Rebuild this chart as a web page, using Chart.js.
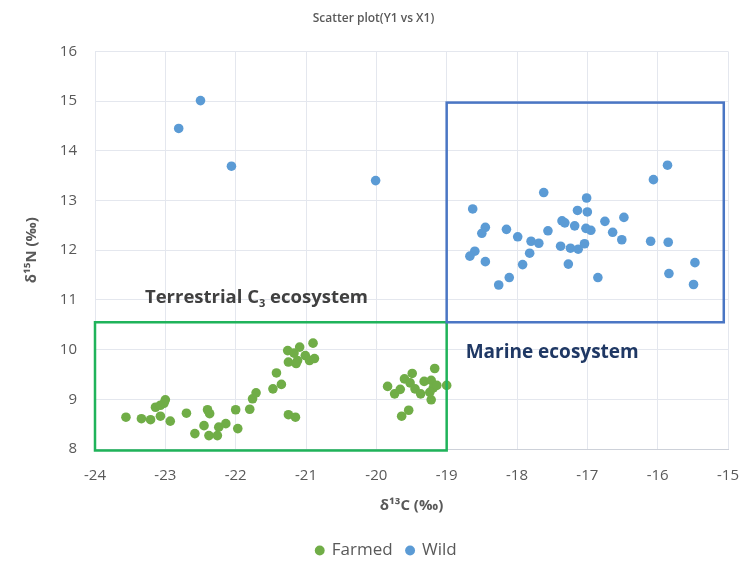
<!DOCTYPE html>
<html>
<head>
<meta charset="utf-8">
<script src="https://cdn.jsdelivr.net/npm/chart.js@4/dist/chart.umd.min.js"></script>
<style>
  html, body { margin: 0; padding: 0; background: #ffffff; }
  #wrap { width: 741px; height: 561px; position: relative; }
</style>
</head>
<body>
<div id="wrap"><canvas id="c" width="741" height="561"></canvas></div>
<script>
// ---- Data ----
const chartTitle = 'Scatter plot(Y1 vs X1)';
const xAxisTitle = 'δ¹³C (‰)';
const yAxisTitle = 'δ¹⁵N (‰)';
const seriesNames = ['Farmed', 'Wild'];

const farmedX = [-23.56, -23.34, -23.21, -22.93, -23.14, -23.07, -23.00, -23.02, -23.07, -22.70, -22.58,
  -22.40, -22.37, -22.45, -22.38, -22.26, -22.24, -22.14, -21.97, -22.00, -21.80, -21.76, -21.71,
  -21.47, -21.35, -21.42, -21.26, -21.25, -21.17, -21.09, -21.12, -21.14, -21.01, -20.95, -20.90,
  -20.88, -21.25, -21.15, -19.84, -19.74, -19.66, -19.60, -19.49, -19.52, -19.45, -19.37, -19.32,
  -19.22, -19.17, -19.19, -19.14, -19.22, -19.24, -19.00, -19.54, -19.64];
const farmedY = [8.64, 8.61, 8.59, 8.56, 8.84, 8.88, 8.99, 8.92, 8.66, 8.72, 8.31,
  8.79, 8.71, 8.47, 8.27, 8.27, 8.44, 8.51, 8.41, 8.79, 8.80, 9.01, 9.13,
  9.21, 9.30, 9.53, 9.98, 9.75, 9.93, 10.05, 9.78, 9.72, 9.88, 9.78, 10.13,
  9.82, 8.69, 8.64, 9.26, 9.11, 9.20, 9.41, 9.52, 9.33, 9.21, 9.11, 9.36,
  9.38, 9.62, 9.23, 9.28, 8.99, 9.14, 9.28, 8.78, 8.66];

const wildX = [-22.81, -22.50, -22.06, -20.01,
  -18.63, -17.62, -15.86, -16.06, -17.01, -17.14, -17.00, -16.48, -16.75, -17.36, -17.32, -17.18,
  -17.02, -16.95, -18.45, -18.50, -18.15, -17.56, -16.64, -17.99, -17.80, -17.69, -16.51, -16.10,
  -15.85, -17.38, -17.24, -17.13, -17.04, -18.60, -18.67, -18.45, -17.82, -17.92, -17.27, -18.11,
  -18.26, -16.85, -15.84, -15.47, -15.49];
const wildY = [14.45, 15.01, 13.69, 13.40,
  12.83, 13.16, 13.71, 13.42, 13.05, 12.80, 12.77, 12.66, 12.58, 12.59, 12.55, 12.49,
  12.44, 12.40, 12.46, 12.34, 12.42, 12.39, 12.36, 12.27, 12.18, 12.14, 12.21, 12.18,
  12.16, 12.08, 12.04, 12.02, 12.13, 11.98, 11.88, 11.77, 11.94, 11.71, 11.72, 11.45,
  11.30, 11.45, 11.53, 11.75, 11.31];

const xTicks = [-24, -23, -22, -21, -20, -19, -18, -17, -16, -15];
const yTicks = [8, 9, 10, 11, 12, 13, 14, 15, 16];

// annotation regions: [xMin, xMax, yMin, yMax]
const terrestrialBox = [-24, -19, 7.97, 10.55];
const marineBox = [-19, -15.06, 10.55, 14.97];
const terrestrialLabel = { x: -23.29, y: 11.05, text: 'Terrestrial C', sub: '3', rest: ' ecosystem' };
const marineLabel = { x: -18.73, y: 9.94, text: 'Marine ecosystem' };

// ---- Chart ----
const toPoints = (xs, ys) => xs.map((x, i) => ({ x: x, y: ys[i] }));

const annotationPlugin = {
  id: 'regions',
  afterLayout(chart) {
    if (chart.legend) { chart.legend.left += 26; }
  },
  afterDatasetsDraw(chart) {
    const ctx = chart.ctx;
    const xs = chart.scales.x, ys = chart.scales.y;
    const box = (b, color) => {
      const x1 = xs.getPixelForValue(b[0]), x2 = xs.getPixelForValue(b[1]);
      const y1 = ys.getPixelForValue(b[3]), y2 = ys.getPixelForValue(b[2]);
      ctx.save();
      ctx.strokeStyle = color;
      ctx.lineWidth = 2.5;
      ctx.strokeRect(x1, y1, x2 - x1, y2 - y1);
      ctx.restore();
    };
    box(terrestrialBox, '#1fb35a');
    box(marineBox, '#4a76c4');

    ctx.save();
    ctx.textBaseline = 'middle';
    ctx.textAlign = 'left';
    let px = xs.getPixelForValue(terrestrialLabel.x);
    let py = ys.getPixelForValue(terrestrialLabel.y);
    ctx.fillStyle = '#404040';
    ctx.font = 'bold 18.5px "Open Sans", sans-serif';
    ctx.fillText(terrestrialLabel.text, px, py);
    px += ctx.measureText(terrestrialLabel.text).width;
    ctx.font = 'bold 11px "Open Sans", sans-serif';
    ctx.fillText(terrestrialLabel.sub, px, py + 6);
    px += ctx.measureText(terrestrialLabel.sub).width;
    ctx.font = 'bold 18.5px "Open Sans", sans-serif';
    ctx.fillText(terrestrialLabel.rest, px, py);
    ctx.fillStyle = '#1f3864';
    ctx.font = 'bold 19px "Open Sans", sans-serif';
    ctx.fillText(marineLabel.text, xs.getPixelForValue(marineLabel.x), ys.getPixelForValue(marineLabel.y));
    ctx.restore();
  }
};

const gridColor = '#e4e7ee';
const textColor = '#595959';
const fam = '"Open Sans", sans-serif';

new Chart(document.getElementById('c'), {
  type: 'scatter',
  data: {
    datasets: [
      { label: seriesNames[0], data: toPoints(farmedX, farmedY), backgroundColor: '#70ad47', borderColor: '#70ad47', pointRadius: 4.8, pointHoverRadius: 4.8, borderWidth: 0 },
      { label: seriesNames[1], data: toPoints(wildX, wildY), backgroundColor: '#5b9bd5', borderColor: '#5b9bd5', pointRadius: 4.8, pointHoverRadius: 4.8, borderWidth: 0 }
    ]
  },
  options: {
    responsive: false,
    animation: false,
    devicePixelRatio: 1,
    layout: { padding: { left: 10, right: 4, top: 0, bottom: -8 } },
    plugins: {
      title: {
        display: true,
        text: chartTitle,
        color: textColor,
        font: { family: fam, size: 12, weight: '600' },
        padding: { top: 11, bottom: 26 }
      },
      legend: {
        display: true,
        position: 'bottom',
        labels: {
          color: textColor,
          font: { family: fam, size: 17 },
          usePointStyle: true,
          pointStyle: 'circle',
          boxWidth: 7,
          boxHeight: 7,
          padding: 14
        }
      },
      tooltip: { enabled: false }
    },
    scales: {
      x: {
        type: 'linear',
        min: -24, max: -15,
        afterBuildTicks: (s) => { s.ticks = xTicks.map(v => ({ value: v })); },
        afterFit: (s) => { s.height = 79; s.paddingRight = 13; s.paddingLeft = 0; },
        grid: { color: gridColor, drawTicks: false },
        border: { color: '#cdd1d9' },
        ticks: { color: textColor, padding: 18, font: { family: fam, size: 15 } },
        title: { display: true, text: xAxisTitle, color: textColor, font: { family: fam, size: 15, weight: 'bold' }, padding: { top: 0, bottom: 13 } }
      },
      y: {
        type: 'linear',
        min: 8, max: 16,
        afterBuildTicks: (s) => { s.ticks = yTicks.map(v => ({ value: v })); },
        afterFit: (s) => { s.width = 85; },
        grid: { color: gridColor, drawTicks: false },
        border: { color: gridColor },
        ticks: { color: textColor, padding: 18, font: { family: fam, size: 15 } },
        title: { display: true, text: yAxisTitle, color: textColor, font: { family: fam, size: 15, weight: 'bold' }, padding: { top: 13, bottom: 0 } }
      }
    }
  },
  plugins: [annotationPlugin]
});
</script>
</body>
</html>
